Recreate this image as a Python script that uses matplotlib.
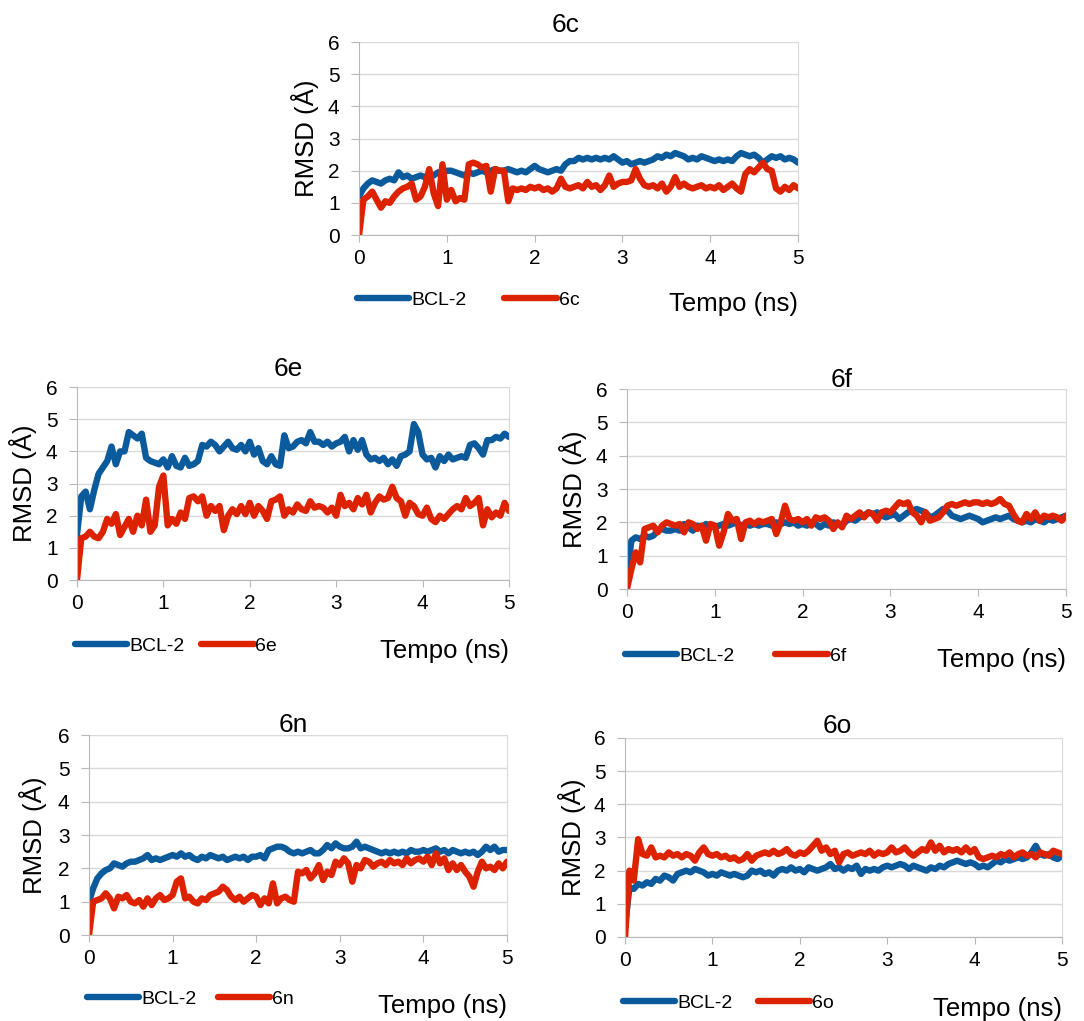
import numpy as np
import matplotlib
matplotlib.use('Agg')
import matplotlib.pyplot as plt

plt.rcParams['font.family'] = ['Liberation Sans', 'DejaVu Sans']

# tempo di simulazione (ns), un campione ogni 0.05 ns
tempo = np.linspace(0, 5, 101)

# RMSD (Å), righe da 1 ns
bcl2_6c = [1.2, 1.45, 1.6, 1.7, 1.65, 1.6, 1.7, 1.75, 1.7, 1.95, 1.8, 1.85, 1.75, 1.8, 1.85, 1.8, 1.9, 1.85, 1.95, 1.9,
           2.0, 2.0, 1.95, 1.9, 1.85, 1.95, 1.9, 1.95, 2.0, 1.95, 2.0, 2.05, 2.0, 2.0, 2.05, 2.0, 1.95, 2.0, 1.95, 2.05,
           2.15, 2.05, 2.0, 1.95, 2.0, 2.05, 2.0, 2.2, 2.3, 2.3, 2.4, 2.35, 2.4, 2.35, 2.4, 2.35, 2.4, 2.35, 2.45, 2.35,
           2.25, 2.3, 2.2, 2.25, 2.3, 2.25, 2.3, 2.35, 2.45, 2.4, 2.5, 2.45, 2.55, 2.5, 2.45, 2.35, 2.4, 2.35, 2.45, 2.4,
           2.35, 2.3, 2.35, 2.3, 2.35, 2.3, 2.45, 2.55, 2.5, 2.45, 2.5, 2.4, 2.25, 2.35, 2.45, 2.4, 2.45, 2.35, 2.4, 2.35,
           2.25]
lig_6c = [0.0, 1.1, 1.2, 1.35, 1.1, 0.85, 1.05, 1.0, 1.2, 1.35, 1.45, 1.5, 1.6, 1.1, 1.2, 1.5, 2.05, 1.3, 0.9, 2.2,
          1.1, 1.4, 1.05, 1.15, 1.1, 2.2, 2.25, 2.2, 2.1, 2.15, 1.35, 2.05, 2.0, 2.0, 1.05, 1.45, 1.4, 1.45, 1.4, 1.5,
          1.45, 1.5, 1.4, 1.45, 1.35, 1.45, 1.75, 1.5, 1.45, 1.5, 1.55, 1.45, 1.65, 1.5, 1.55, 1.4, 1.55, 1.85, 1.5, 1.6,
          1.65, 1.65, 1.7, 2.05, 1.75, 1.55, 1.5, 1.55, 1.45, 1.6, 1.35, 1.5, 1.8, 1.5, 1.6, 1.5, 1.45, 1.5, 1.55, 1.45,
          1.5, 1.45, 1.55, 1.4, 1.5, 1.6, 1.45, 1.35, 1.9, 2.05, 1.95, 2.1, 2.25, 2.05, 2.0, 1.45, 1.35, 1.5, 1.4, 1.55,
          1.45]

bcl2_6e = [1.4, 2.6, 2.75, 2.2, 2.8, 3.3, 3.5, 3.7, 4.15, 3.6, 4.0, 4.0, 4.6, 4.5, 4.4, 4.55, 3.8, 3.7, 3.65, 3.6,
           3.75, 3.5, 3.85, 3.55, 3.5, 3.8, 3.55, 3.6, 3.7, 4.2, 4.15, 4.3, 4.2, 4.0, 4.15, 4.3, 4.1, 4.05, 4.2, 4.0,
           4.3, 3.9, 4.1, 3.7, 3.6, 3.85, 3.6, 3.55, 4.5, 4.1, 4.15, 4.3, 4.35, 4.25, 4.6, 4.3, 4.3, 4.2, 4.3, 4.15,
           4.25, 4.3, 4.45, 4.0, 4.35, 4.05, 4.35, 3.9, 3.75, 3.8, 3.7, 3.8, 3.6, 3.75, 3.55, 3.85, 3.9, 4.0, 4.85, 4.6,
           3.9, 3.75, 3.8, 3.5, 3.85, 3.7, 3.9, 3.75, 3.8, 3.85, 3.8, 4.2, 4.25, 4.1, 3.9, 4.35, 4.35, 4.45, 4.4, 4.55,
           4.45]
lig_6e = [0.0, 1.3, 1.35, 1.5, 1.35, 1.3, 1.5, 1.9, 1.75, 2.05, 1.4, 1.65, 1.9, 1.5, 2.0, 1.7, 2.5, 1.5, 1.7, 2.9,
          3.25, 1.7, 1.9, 1.75, 2.1, 1.9, 2.55, 2.6, 2.45, 2.6, 2.0, 2.3, 2.15, 2.3, 1.55, 2.0, 2.2, 2.05, 2.3, 2.05,
          2.4, 2.0, 2.3, 2.15, 1.9, 2.45, 2.5, 2.6, 2.0, 2.2, 2.1, 2.35, 2.2, 2.15, 2.45, 2.25, 2.3, 2.25, 2.1, 2.25,
          2.0, 2.65, 2.3, 2.4, 2.2, 2.55, 2.35, 2.65, 2.1, 2.4, 2.6, 2.5, 2.55, 2.9, 2.55, 2.45, 2.0, 2.4, 2.3, 2.05,
          2.0, 2.25, 1.9, 1.8, 2.0, 1.9, 2.05, 2.2, 2.3, 2.2, 2.55, 2.3, 2.4, 2.55, 1.7, 2.2, 1.95, 2.1, 2.0, 2.4,
          2.15]

bcl2_6f = [0.4, 1.45, 1.55, 1.5, 1.6, 1.55, 1.6, 1.75, 1.8, 1.75, 1.75, 1.8, 1.75, 1.95, 1.85, 1.75, 1.9, 1.85, 1.95, 1.9,
           1.85, 1.9, 1.95, 1.9, 1.95, 2.0, 1.9, 1.95, 1.9, 1.95, 1.9, 1.95, 1.95, 1.9, 2.0, 1.95, 2.0, 1.95, 2.0, 1.9,
           1.95, 1.9, 2.0, 1.95, 1.85, 1.95, 1.9, 2.0, 1.95, 1.9, 2.05, 2.1, 2.05, 2.15, 2.2, 2.3, 2.25, 2.3, 2.2, 2.15,
           2.2, 2.25, 2.1, 2.2, 2.3, 2.35, 2.4, 2.35, 2.3, 2.15, 2.2, 2.3, 2.4, 2.35, 2.2, 2.15, 2.1, 2.15, 2.2, 2.15,
           2.1, 2.0, 2.05, 2.1, 2.15, 2.1, 2.15, 2.2, 2.1, 2.05, 2.0, 2.05, 2.0, 2.1, 2.05, 2.0, 2.1, 2.05, 2.1, 2.15,
           2.2]
lig_6f = [0.0, 0.6, 1.1, 0.8, 1.8, 1.85, 1.9, 1.7, 1.9, 2.0, 1.95, 1.9, 1.95, 1.7, 2.0, 1.95, 1.8, 1.9, 1.45, 1.95,
          1.9, 1.3, 1.7, 2.25, 2.05, 2.1, 1.5, 2.0, 2.05, 1.95, 2.05, 2.0, 2.05, 2.1, 1.65, 2.0, 2.5, 2.1, 2.05, 2.1,
          2.0, 2.1, 1.9, 2.15, 2.1, 2.15, 2.05, 1.8, 2.0, 1.85, 2.2, 2.1, 2.2, 2.3, 2.15, 2.3, 2.25, 2.05, 2.3, 2.35,
          2.3, 2.45, 2.6, 2.55, 2.6, 2.3, 2.2, 2.0, 2.3, 2.05, 2.1, 2.15, 2.3, 2.5, 2.55, 2.5, 2.55, 2.6, 2.55, 2.6,
          2.6, 2.55, 2.6, 2.55, 2.6, 2.7, 2.55, 2.5, 2.25, 2.05, 2.0, 2.25, 2.1, 2.3, 2.05, 2.2, 2.15, 2.2, 2.15, 2.05,
          2.2]

bcl2_6n = [1.0, 1.4, 1.7, 1.85, 1.95, 2.0, 2.15, 2.1, 2.05, 2.15, 2.2, 2.2, 2.25, 2.3, 2.4, 2.25, 2.3, 2.25, 2.3, 2.35,
           2.4, 2.35, 2.45, 2.35, 2.4, 2.3, 2.25, 2.35, 2.3, 2.4, 2.35, 2.3, 2.35, 2.25, 2.3, 2.35, 2.3, 2.35, 2.25, 2.35,
           2.35, 2.4, 2.3, 2.55, 2.6, 2.65, 2.65, 2.6, 2.5, 2.45, 2.5, 2.45, 2.5, 2.55, 2.45, 2.45, 2.55, 2.7, 2.6, 2.75,
           2.65, 2.6, 2.6, 2.65, 2.8, 2.6, 2.65, 2.6, 2.55, 2.5, 2.45, 2.5, 2.45, 2.5, 2.45, 2.5, 2.45, 2.55, 2.5, 2.5,
           2.55, 2.5, 2.55, 2.6, 2.5, 2.55, 2.45, 2.55, 2.5, 2.45, 2.5, 2.45, 2.5, 2.4, 2.5, 2.65, 2.55, 2.65, 2.5, 2.55,
           2.55]
lig_6n = [0.0, 1.0, 1.05, 1.1, 1.25, 1.1, 0.8, 1.15, 1.1, 1.2, 1.0, 0.95, 1.05, 0.85, 1.1, 0.9, 1.1, 1.2, 1.05, 1.1,
          1.2, 1.6, 1.7, 1.1, 1.15, 1.0, 0.95, 1.1, 1.05, 1.2, 1.25, 1.3, 1.45, 1.35, 1.15, 1.05, 1.15, 1.0, 1.1, 1.2,
          1.15, 0.9, 1.1, 0.95, 1.55, 0.95, 1.1, 1.15, 1.05, 1.0, 1.9, 1.85, 1.95, 1.7, 1.85, 2.1, 1.65, 1.9, 1.8, 2.2,
          2.1, 2.3, 2.15, 1.6, 2.1, 2.0, 2.25, 2.2, 2.05, 2.15, 2.2, 2.1, 2.25, 2.15, 2.2, 2.1, 2.3, 2.15, 2.25, 2.3,
          2.2, 2.35, 2.1, 2.45, 2.15, 2.3, 1.95, 2.15, 1.95, 2.1, 1.9, 1.75, 1.45, 1.9, 2.2, 2.0, 2.05, 1.95, 2.15, 2.0,
          2.2]

bcl2_6o = [0.3, 1.5, 1.45, 1.6, 1.55, 1.65, 1.6, 1.75, 1.7, 1.85, 1.8, 1.7, 1.9, 1.95, 2.0, 1.95, 2.05, 2.0, 1.95, 1.85,
           1.9, 1.85, 1.95, 1.9, 1.85, 1.9, 1.85, 1.8, 1.85, 2.0, 1.95, 2.0, 1.9, 1.95, 1.85, 2.0, 2.05, 2.0, 2.1, 2.0,
           2.05, 1.95, 2.1, 2.05, 2.0, 2.05, 2.1, 2.2, 2.05, 2.1, 2.0, 2.1, 2.05, 2.15, 1.9, 2.05, 2.0, 2.05, 2.0, 2.1,
           2.15, 2.1, 2.15, 2.2, 2.15, 2.05, 2.15, 2.1, 2.05, 2.0, 2.1, 2.05, 2.15, 2.1, 2.2, 2.25, 2.3, 2.25, 2.2, 2.25,
           2.2, 2.1, 2.15, 2.1, 2.2, 2.3, 2.25, 2.35, 2.3, 2.35, 2.4, 2.35, 2.4, 2.55, 2.75, 2.5, 2.45, 2.5, 2.4, 2.35,
           2.45]
lig_6o = [0.0, 2.0, 1.7, 2.95, 2.5, 2.45, 2.7, 2.4, 2.45, 2.4, 2.55, 2.45, 2.5, 2.4, 2.5, 2.45, 2.3, 2.55, 2.7, 2.5,
          2.45, 2.5, 2.4, 2.45, 2.35, 2.4, 2.3, 2.35, 2.5, 2.3, 2.45, 2.5, 2.55, 2.5, 2.6, 2.5, 2.55, 2.65, 2.5, 2.45,
          2.55, 2.5, 2.6, 2.75, 2.9, 2.6, 2.7, 2.5, 2.6, 2.25, 2.5, 2.55, 2.45, 2.5, 2.55, 2.5, 2.6, 2.45, 2.55, 2.5,
          2.55, 2.7, 2.55, 2.6, 2.7, 2.55, 2.45, 2.55, 2.65, 2.6, 2.85, 2.6, 2.75, 2.55, 2.65, 2.6, 2.65, 2.55, 2.7, 2.55,
          2.65, 2.4, 2.35, 2.4, 2.45, 2.4, 2.5, 2.45, 2.55, 2.4, 2.5, 2.55, 2.45, 2.5, 2.4, 2.55, 2.5, 2.45, 2.6, 2.55,
          2.5]

BLU = '#0b5a9c'
ROSSO = '#dd2200'
GRIGIO = '#b8b8b8'
GRIGLIA = '#d9d9d9'

fig = plt.figure(figsize=(10.84, 10.21), dpi=100)


def pannello(rect, titolo, blu, rosso, nome, tit_x, tit_gap, leg_y, col_sp, tempo_y, ylab_x):
    ax = fig.add_axes(rect)
    h_px = rect[3] * 1021
    ax.plot(tempo, blu, color=BLU, lw=4.6, label='BCL-2',
            solid_capstyle='round', solid_joinstyle='round')
    ax.plot(tempo, rosso, color=ROSSO, lw=4.6, label=nome,
            solid_capstyle='round', solid_joinstyle='round')
    ax.set_xlim(0, 5)
    ax.set_ylim(0, 6)
    ax.set_xticks(range(6))
    ax.set_yticks(range(7))
    ax.grid(axis='y', color=GRIGLIA, lw=1.0)
    ax.set_axisbelow(True)
    ax.spines['top'].set_visible(False)
    ax.spines['right'].set_color(GRIGLIA)
    ax.spines['left'].set_color(GRIGIO)
    ax.spines['bottom'].set_color(GRIGIO)
    ax.tick_params(axis='y', length=6, pad=8, color=GRIGIO, labelsize=15)
    ax.tick_params(axis='x', length=5, pad=5, color=GRIGIO, labelsize=15)
    ax.text(tit_x, 1 + tit_gap / h_px, titolo, transform=ax.transAxes,
            ha='center', va='baseline', fontsize=19)
    ax.text(ylab_x, 0.5, 'RMSD (Å)', transform=ax.transAxes, rotation=90,
            ha='center', va='center', fontsize=18.5)
    ax.text(1.0, tempo_y, 'Tempo (ns)', transform=ax.transAxes,
            ha='right', va='center', fontsize=18.5)
    ax.legend(loc='center left', bbox_to_anchor=(-0.005, leg_y), ncol=2,
              frameon=False, fontsize=14, handlelength=2.7, handletextpad=0.1,
              columnspacing=col_sp, borderpad=0, borderaxespad=0)
    return ax


pannello([0.3312, 0.7698, 0.405, 0.189], '6c', bcl2_6c, lig_6c, '6c',
         0.47, 10, -0.337, 1.95, -0.358, -0.123)
pannello([0.0710, 0.4319, 0.3985, 0.189], '6e', bcl2_6e, lig_6e, '6e',
         0.49, 11, -0.342, 0.85, -0.368, -0.125)
pannello([0.5784, 0.4231, 0.405, 0.1959], '6f', bcl2_6f, lig_6f, '6f',
         0.49, 2, -0.335, 2.1, -0.355, -0.123)
pannello([0.0821, 0.0842, 0.3856, 0.1959], '6n', bcl2_6n, lig_6n, '6n',
         0.488, 3, -0.32, 1.1, -0.355, -0.134)
pannello([0.5766, 0.0823, 0.4031, 0.1949], '6o', bcl2_6o, lig_6o, '6o',
         0.485, 5, -0.332, 1.3, -0.362, -0.121)

fig.savefig('out.png', dpi=100)
